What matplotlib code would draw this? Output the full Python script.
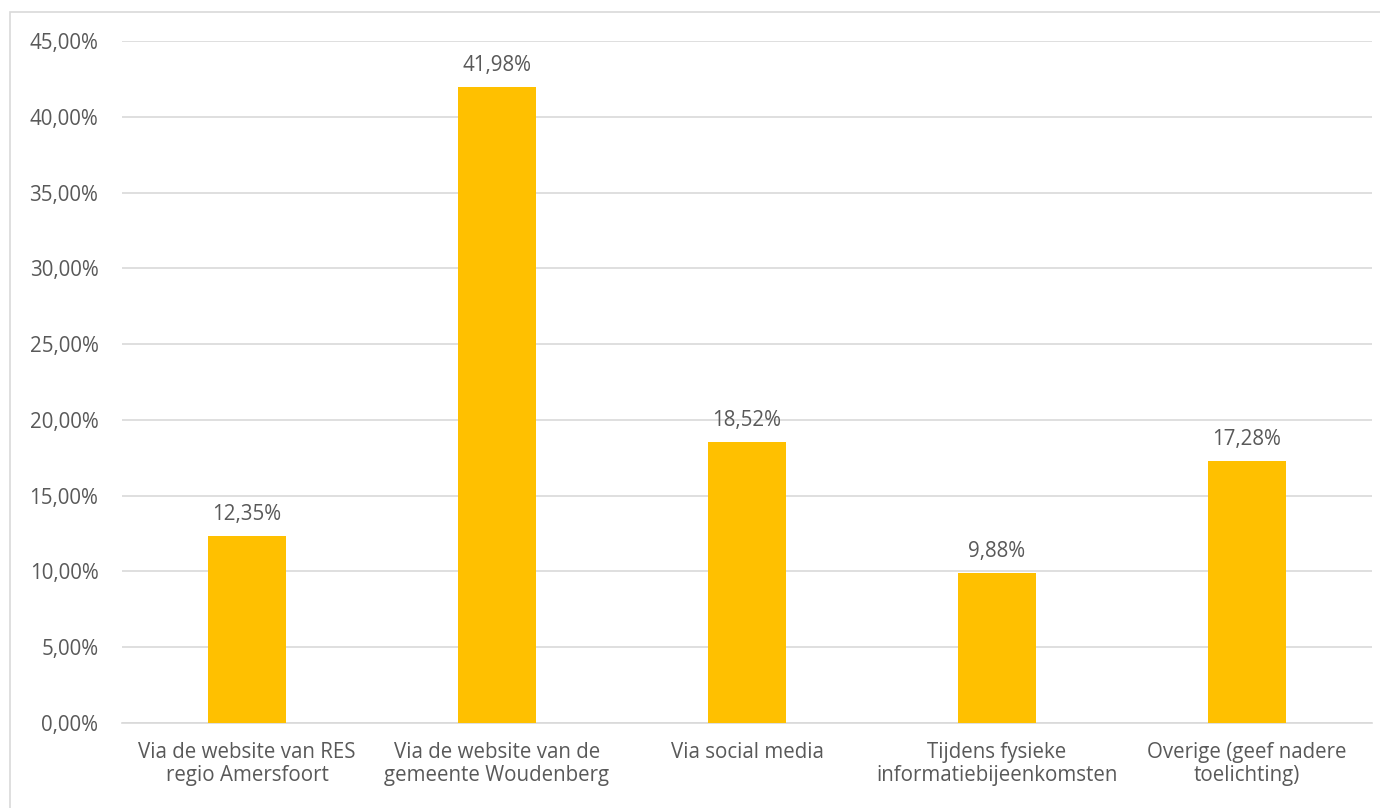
import matplotlib.pyplot as plt
from matplotlib.patches import Rectangle
from matplotlib.ticker import FuncFormatter

# Data
categories = [
    'Via de website van RES\nregio Amersfoort',
    'Via de website van de\ngemeente Woudenberg',
    'Via social media',
    'Tijdens fysieke\ninformatiebijeenkomsten',
    'Overige (geef nadere\ntoelichting)',
]
values = [12.35, 41.98, 18.52, 9.88, 17.28]
y_ticks = [0, 5, 10, 15, 20, 25, 30, 35, 40, 45]

plt.rcParams['font.family'] = ['Open Sans', 'DejaVu Sans']
text_color = '#595959'
fs = 14.8

fig = plt.figure(figsize=(13.8, 8.08), dpi=100)
ax = fig.add_axes([122 / 1380, 1 - 723 / 808, 1250 / 1380, (723 - 41) / 808])

x = range(len(categories))
bars = ax.bar(x, values, width=0.312, color='#FFC000', zorder=3)

for b, v in zip(bars, values):
    ax.annotate(f'{v:.2f}%'.replace('.', ','),
                (b.get_x() + b.get_width() / 2, v),
                xytext=(0, 8), textcoords='offset points',
                ha='center', va='bottom', fontsize=fs, color=text_color)

ax.set_xlim(-0.5, len(categories) - 0.5)
ax.set_ylim(0, 45)
ax.set_yticks(y_ticks)
ax.yaxis.set_major_formatter(FuncFormatter(lambda v, p: f'{v:.2f}%'.replace('.', ',')))
ax.set_xticks(list(x))
ax.set_xticklabels(categories, linespacing=1.12)

ax.grid(axis='y', color='#D9D9D9', linewidth=1.2, zorder=0)
for s in ['top', 'right', 'left']:
    ax.spines[s].set_visible(False)
ax.spines['bottom'].set_color('#D9D9D9')
ax.spines['bottom'].set_linewidth(1.2)
ax.tick_params(axis='both', length=0, labelsize=fs, colors=text_color)
ax.tick_params(axis='y', pad=17)
ax.tick_params(axis='x', pad=14)

# light frame around the chart area (cropped on right and bottom)
fig.patches.append(Rectangle((10 / 1380, -0.05), 1.2, 1 - 12 / 808 + 0.05,
                             transform=fig.transFigure, fill=False,
                             edgecolor='#D9D9D9', linewidth=1.2))

fig.savefig('out.png', dpi=100)
